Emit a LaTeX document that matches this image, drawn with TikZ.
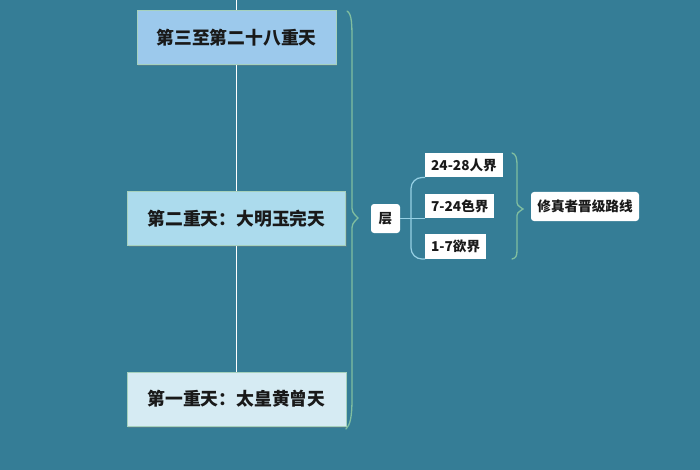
\documentclass[tikz,border=0pt]{standalone}
\usepackage{fontspec}
\newfontfamily\cjk{Noto Sans CJK SC}
\usepackage{tikz}
\usetikzlibrary{positioning,shadows}
\definecolor{bgteal}{RGB}{53,125,150}
\definecolor{skyone}{RGB}{156,201,236}
\definecolor{skytwo}{RGB}{172,219,237}
\definecolor{skythree}{RGB}{214,235,243}
\definecolor{edgegreen}{RGB}{128,190,160}
\definecolor{linkblue}{RGB}{150,208,228}
\definecolor{inkdark}{RGB}{25,25,25}

\begin{document}
\begin{tikzpicture}[x=1pt,y=-1pt,
    heaven/.style={draw=edgegreen!70!white,line width=0.6pt,minimum height=54pt,
        font=\cjk\bfseries\fontsize{17.8}{20}\selectfont,text=inkdark,
        drop shadow={shadow xshift=1pt,shadow yshift=-1.5pt,opacity=0.35}},
    tag/.style={fill=white,rounded corners=3pt,text=inkdark,
        font=\cjk\bfseries\fontsize{13.6}{15}\selectfont},
    leaf/.style={fill=white,text=inkdark,anchor=south west,inner xsep=6pt,
        minimum height=24.5pt,font=\cjk\bfseries\fontsize{13.6}{15}\selectfont},
    curly/.style={draw=edgegreen,line width=1.3pt,line cap=round}]
    \useasboundingbox (0,0) rectangle (700,470);
    \fill[bgteal] (0,0) rectangle (700,470);

    % three heavens on the trunk
    \coordinate (top) at (236.5,0);
    \node[heaven,fill=skyone,minimum width=199pt] (h28) at (236.5,37.5) {第三至第二十八重天};
    \node[heaven,fill=skytwo,minimum width=218pt] (h2) at (236.5,218.5) {第二重天：大明玉完天};
    \node[heaven,fill=skythree,minimum width=219pt] (h1) at (236.5,399) {第一重天：太皇黄曾天};
    \draw[white,line width=1.8pt] (top) -- (h28);
    \draw[white,line width=1.8pt] (h28) -- (h2);
    \draw[white,line width=1.8pt] (h2) -- (h1);

    % big brace
    \draw[curly] (347,11) .. controls (352,14) and (352,24) .. (352,44) -- (352,204)
        .. controls (352,212) .. (358,218) .. controls (352,224) .. (352,232) -- (352,398)
        .. controls (352,418) and (350,425) .. (346,429);

    % layer node and its three realms
    \node[tag,minimum width=29pt,minimum height=29pt] (layer) at (385.5,218.5) {层};
    \node[leaf] (r28) at (425,177.5) {24-28人界};
    \node[leaf] (r24) at (425,218.5) {7-24色界};
    \node[leaf] (r7) at (425,259) {1-7欲界};
    \draw[linkblue,line width=1.2pt] (layer.east) -- (r24.south west);
    \draw[linkblue,line width=1.2pt,rounded corners=11pt]
        (r28.south west) -- (411,177.5) -- (411,259) -- (r7.south west);

    % small brace
    \draw[curly] (512,153) .. controls (516,154) and (517,158) .. (517,166) -- (517,200)
        .. controls (517,205) .. (523,209) .. controls (517,213) .. (517,218) -- (517,250)
        .. controls (517,256) and (516,258) .. (512,259);

    \node[tag,minimum width=108pt,minimum height=29pt] (route) at (585,206.5) {修真者晋级路线};
\end{tikzpicture}
\end{document}
